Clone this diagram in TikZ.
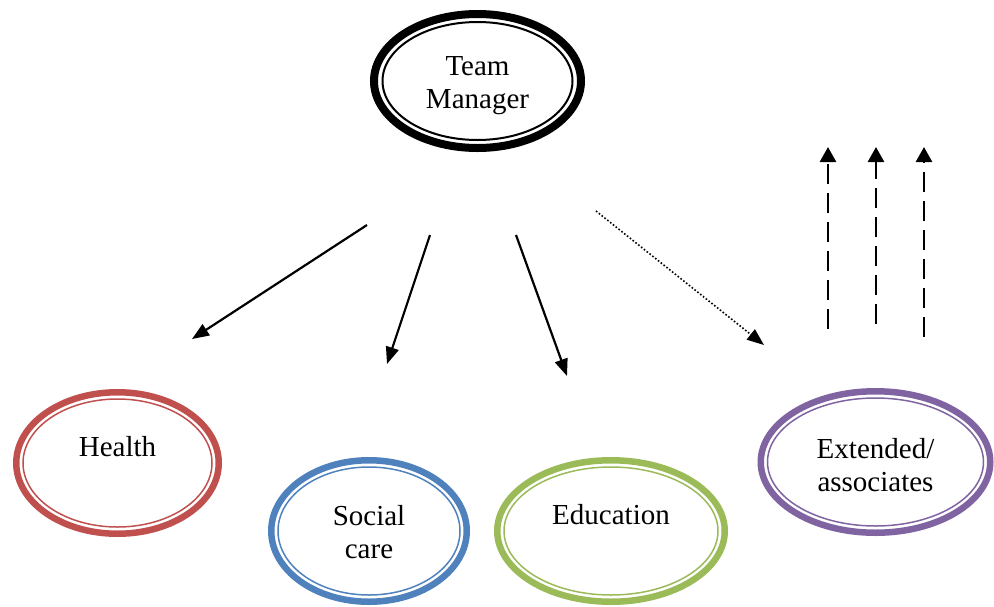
\documentclass[tikz,border=0pt]{standalone}
\usepackage{fontspec}
\setmainfont{Liberation Serif}
\usetikzlibrary{shapes.geometric,arrows.meta}
\definecolor{cred}{HTML}{C0504D}
\definecolor{cblue}{HTML}{4F81BD}
\definecolor{cgreen}{HTML}{9BBB59}
\definecolor{cpurple}{HTML}{8064A2}
\begin{document}
\begin{tikzpicture}[x=1pt,y=-1pt,
  oval/.style={ellipse, draw, inner sep=0pt, line width=6.5pt},
  lbl/.style={align=center, font=\fontsize{29}{33}\selectfont, inner sep=0pt},
  inner/.style={line width=1.5pt},
  solidarrow/.style={line width=2.2pt, -{Triangle[length=17pt,width=13pt]}},
  dotarrow/.style={line width=1.6pt, dash pattern=on 1.6pt off 2pt, -{Triangle[length=17pt,width=13pt]}},
  dasharrow/.style={line width=2.7pt, dash pattern=on 20pt off 9pt, -{Triangle[length=15pt,width=16pt]}}
]
\useasboundingbox (0,0) rectangle (994,606);
% Team Manager
\node[oval, draw=black, line width=8pt, minimum width=207pt, minimum height=134pt] (tm) at (477.5,81) {};
\draw[inner, line width=2pt] (tm.center) ellipse [x radius=95, y radius=59];
\node[lbl] (tmt) at (477.5,86) {Team\\Manager};
% Health
\node[oval, draw=cred, minimum width=202.5pt, minimum height=141.5pt] (health) at (117.5,463) {};
\draw[inner, cred] (health.center) ellipse [x radius=94.5, y radius=64];
\node[lbl] (healtht) at (117.5,447) {Health};
% Social care
\node[oval, draw=cblue, minimum width=195.5pt, minimum height=141.5pt] (social) at (369,531) {};
\draw[inner, cblue] (social.center) ellipse [x radius=91, y radius=64];
\node[lbl] (socialt) at (369,532) {Social\\care};
% Education
\node[oval, draw=cgreen, minimum width=227.5pt, minimum height=141.5pt] (edu) at (611,531) {};
\draw[inner, cgreen] (edu.center) ellipse [x radius=107, y radius=64];
\node[lbl] (edut) at (611,515) {Education};
% Extended
\node[oval, draw=cpurple, minimum width=229.5pt, minimum height=141.5pt] (ext) at (875.5,462) {};
\draw[inner, cpurple] (ext.center) ellipse [x radius=108, y radius=64];
\node[lbl] (extt) at (875.5,465) {Extended/\\associates};
% arrow coordinates
\coordinate (a1s) at (367,225); \coordinate (a1e) at (192,339);
\coordinate (a2s) at (430,235); \coordinate (a2e) at (387,364);
\coordinate (a3s) at (516,235); \coordinate (a3e) at (567,376);
\coordinate (a4s) at (596,211); \coordinate (a4e) at (764,345);
\coordinate (d1s) at (828,329); \coordinate (d1e) at (828,147);
\coordinate (d2s) at (876,324); \coordinate (d2e) at (876,147);
\coordinate (d3s) at (924,337); \coordinate (d3e) at (924,147);
\draw[solidarrow] (a1s) -- (a1e);
\draw[solidarrow] (a2s) -- (a2e);
\draw[solidarrow] (a3s) -- (a3e);
\draw[dotarrow] (a4s) -- (a4e);
\draw[dasharrow] (d1s) -- (d1e);
\draw[dasharrow] (d2s) -- (d2e);
\draw[dasharrow] (d3s) -- (d3e);
\end{tikzpicture}
\end{document}
